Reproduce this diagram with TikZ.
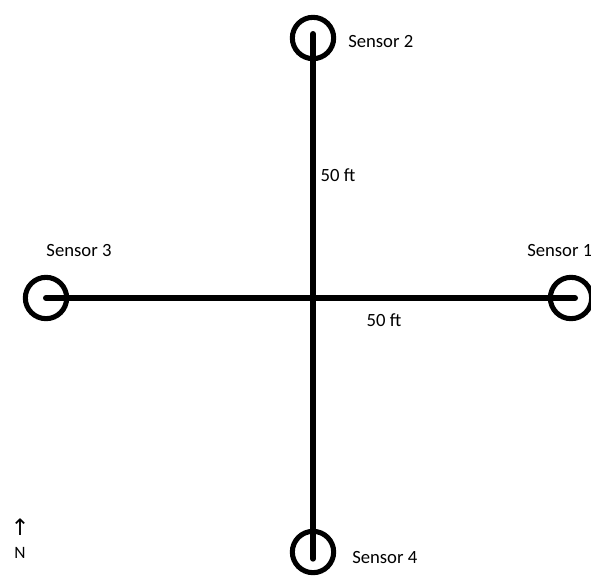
\documentclass[tikz,border=0pt]{standalone}
\usepackage{fontspec}
\setmainfont{Carlito}
\newfontfamily\symfont{DejaVu Sans}
\tikzset{
  sensor/.style={circle,draw,line width=3.8pt,minimum size=31pt,inner sep=0pt},
  wire/.style={line width=4.5pt,line cap=round},
  lbl/.style={font=\fontsize{14}{16}\selectfont,inner sep=0pt}
}
\begin{document}
\begin{tikzpicture}[x=0.75pt,y=-0.75pt]
 \useasboundingbox (0,0) rectangle (591,579);
 % sensors
 \node[sensor] (s1) at (571,298) {};
 \node[sensor] (s2) at (313,38) {};
 \node[sensor] (s3) at (46,298) {};
 \node[sensor] (s4) at (313,552) {};
 % cross
 \draw[wire] ([yshift=3pt]s2.center) -- ([yshift=-5pt]s4.center);
 \draw[wire] (s3.center) -- ([xshift=3pt]s1.center);
 % labels
 \node[lbl,anchor=west] (t1) at (527,251) {Sensor 1};
 \node[lbl,anchor=west] (t2) at (348,42) {Sensor 2};
 \node[lbl] (t3) at (79,251) {Sensor 3};
 \node[lbl,anchor=west] (t4) at (352,557) {Sensor 4};
 \node[lbl] (d1) at (338,175) {50 ft};
 \node[lbl] (d2) at (384,320) {50 ft};
 % north
 \node[lbl,font=\symfont\fontsize{17}{19}\selectfont] (arr) at (20,527) {↑};
 \node[lbl,font=\fontsize{13}{15}\selectfont] (north) at (20,553) {N};
\end{tikzpicture}
\end{document}
